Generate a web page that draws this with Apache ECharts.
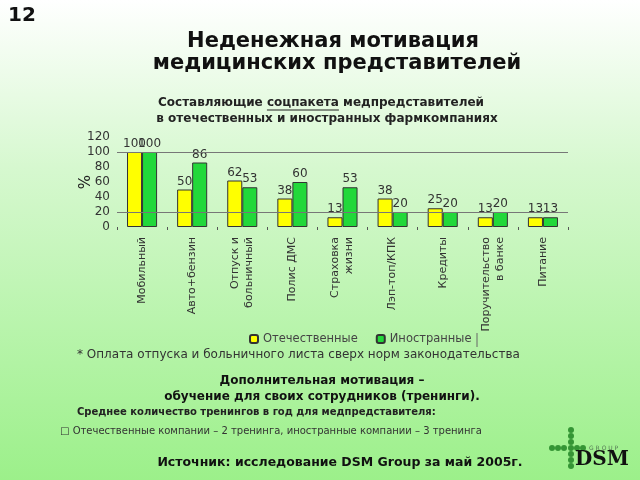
<!DOCTYPE html>
<html><head><meta charset="utf-8">
<script src="https://cdn.jsdelivr.net/npm/echarts@6/dist/echarts.min.js"></script>
<style>html,body{margin:0;padding:0;}#c{width:640px;height:480px;}</style>
</head><body><div id="c"></div>
<script>
const categories = ["Мобильный","Авто+бензин","Отпуск и\nбольничный","Полис ДМС","Страховка\nжизни","Лэп-топ/КПК","Кредиты","Поручительство\nв банке","Питание"];
const domestic = [100,50,62,38,13,38,25,13,13];
const foreign = [100,86,53,60,53,20,20,20,13];
const seriesNames = ["Отечественные","Иностранные"];
const gridLineValues = [20,100];

const chart = echarts.init(document.getElementById('c'));
const F = 'DejaVu Sans';
const labelStyle = {show:true, position:'top', distance:2, color:'#333', fontFamily:F, fontSize:12};

// underline position for "соцпакета" in subtitle
const subFont = 'bold 12px DejaVu Sans';
const subText = 'Составляющие соцпакета медпредставителей';
const cv = document.createElement('canvas').getContext('2d');
cv.font = subFont;
const subCx = 321;
const wAll = cv.measureText(subText).width;
const wPre = cv.measureText('Составляющие ').width;
const wWord = cv.measureText('соцпакета').width;
const ulX1 = subCx - wAll/2 + wPre;
const ulX2 = ulX1 + wWord;

const dots = [];
[430,436,442,448,454,460,466].forEach(y=>dots.push([571,y]));
[552,558,564,577,583].forEach(x=>dots.push([x,448]));
const dotEls = dots.map(p=>({type:'circle', shape:{cx:p[0],cy:p[1],r:3}, style:{fill:'#359535'}}));

chart.setOption({
  backgroundColor:{type:'linear',x:0,y:0,x2:0,y2:1,colorStops:[{offset:0,color:'#ffffff'},{offset:0.35,color:'#d6f8cf'},{offset:1,color:'#9cf08a'}]},
  animation:false,
  grid:{left:117,right:72,top:137,bottom:253},
  legend:{left:244,top:328,itemWidth:8,itemHeight:8,itemGap:18,
    textStyle:{fontFamily:F,fontSize:11.5,color:'#444'},
    data:seriesNames},
  xAxis:{type:'category',data:categories,
    axisLine:{show:false},
    axisTick:{show:true,length:3,lineStyle:{color:'#555'}},
    axisLabel:{rotate:90,fontFamily:F,fontSize:11,color:'#333',margin:10,lineHeight:14}},
  yAxis:{type:'value',min:0,max:120,interval:20,name:'%',nameLocation:'middle',nameGap:23,nameRotate:90,
    nameMoveOverlap:false,
    nameTextStyle:{fontFamily:F,fontSize:15,color:'#222'},
    axisLine:{show:false},axisTick:{show:false},splitLine:{show:false},
    axisLabel:{fontFamily:F,fontSize:12,color:'#333',margin:7}},
  series:[
    {name:seriesNames[0],type:'bar',data:domestic,barGap:'0%',barCategoryGap:'40%',
      itemStyle:{color:'#ffff00',borderColor:'#333',borderWidth:1},label:labelStyle,
      markLine:{silent:true,symbol:'none',label:{show:false},lineStyle:{color:'#777',type:'solid',width:1},
        data:gridLineValues.map(v=>({yAxis:v}))}},
    {name:seriesNames[1],type:'bar',data:foreign,
      itemStyle:{color:'#22d83a',borderColor:'#333',borderWidth:1},label:labelStyle}
  ],
  graphic:[
    {type:'text',left:8,top:6,style:{text:'12',font:'bold 20px DejaVu Sans',fill:'#111'}},
    {type:'text',x:333,y:42,style:{text:'Неденежная мотивация',font:'bold 21px DejaVu Sans',fill:'#111',textAlign:'center',textVerticalAlign:'middle'}},
    {type:'text',x:337,y:64,style:{text:'медицинских представителей',font:'bold 21px DejaVu Sans',fill:'#111',textAlign:'center',textVerticalAlign:'middle'}},
    {type:'text',x:subCx,y:103,style:{text:subText,font:subFont,fill:'#222',textAlign:'center',textVerticalAlign:'middle'}},
    {type:'line',shape:{x1:ulX1,y1:110,x2:ulX2,y2:110},style:{stroke:'#222',lineWidth:1}},
    {type:'text',x:327,y:119,style:{text:'в отечественных и иностранных фармкомпаниях',font:subFont,fill:'#222',textAlign:'center',textVerticalAlign:'middle'}},
    {type:'line',shape:{x1:477,y1:333,x2:477,y2:347},style:{stroke:'#666',lineWidth:1}},
    {type:'text',x:77,y:355,style:{text:'* Оплата отпуска и больничного листа сверх норм законодательства',font:'12px DejaVu Sans',fill:'#333',textVerticalAlign:'middle'}},
    {type:'text',x:322,y:381,style:{text:'Дополнительная мотивация –',font:'bold 12px DejaVu Sans',fill:'#111',textAlign:'center',textVerticalAlign:'middle'}},
    {type:'text',x:322,y:397,style:{text:'обучение для своих сотрудников (тренинги).',font:'bold 12px DejaVu Sans',fill:'#111',textAlign:'center',textVerticalAlign:'middle'}},
    {type:'text',x:77,y:412,style:{text:'Среднее количество тренингов в год для медпредставителя:',font:'bold 10px DejaVu Sans',fill:'#222',textVerticalAlign:'middle'}},
    {type:'text',x:60,y:431,style:{text:'□ Отечественные компании – 2 тренинга, иностранные компании – 3 тренинга',font:'10px DejaVu Sans',fill:'#333',textVerticalAlign:'middle'}},
    {type:'text',x:340,y:463,style:{text:'Источник: исследование DSM Group за май 2005г.',font:'bold 12.5px DejaVu Sans',fill:'#111',textAlign:'center',textVerticalAlign:'middle'}},
    ...dotEls,
    {type:'text',x:589,y:448,style:{text:'G R O U P',font:'6px DejaVu Sans',fill:'#557755',textVerticalAlign:'middle'}},
    {type:'text',x:575,y:460,style:{text:'DSM',font:'bold 20px DejaVu Serif',fill:'#111',textVerticalAlign:'middle'}}
  ]
});
</script></body></html>
